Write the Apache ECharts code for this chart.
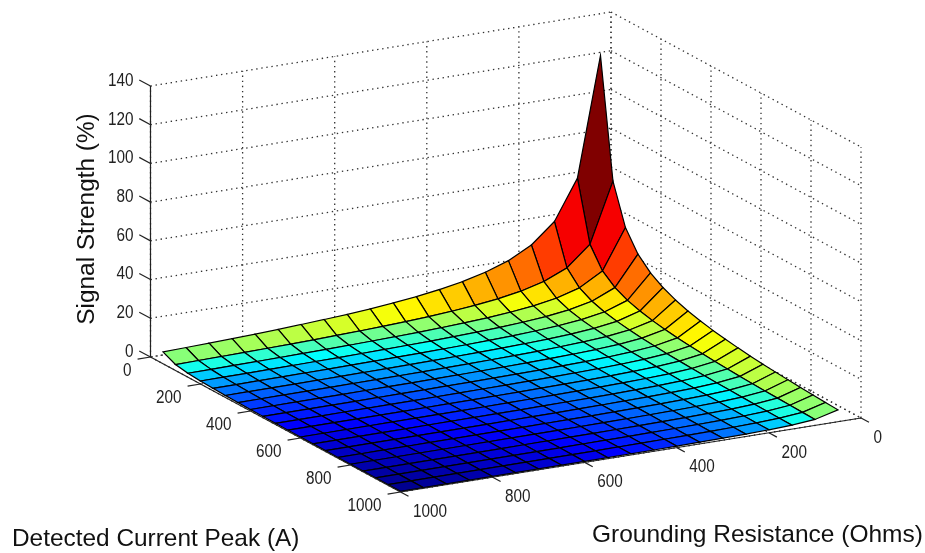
<!DOCTYPE html>
<html lang="en">
<head>
    <meta charset="UTF-8">
    <title>Signal Strength</title>
    <script src="https://cdn.jsdelivr.net/npm/echarts@6/dist/echarts.min.js"></script>
    <style>
        html, body { margin: 0; padding: 0; background: #fff; }
        #main { width: 925px; height: 553px; }
    </style>
</head>
<body>
<div id="main"></div>
<script>
    var currentSteps = [50,100,150,200,250,300,350,400,450,500,550,600,650,700,750,800,850,900,950,1000];
    var resistanceSteps = [50,100,150,200,250,300,350,400,450,500,550,600,650,700,750,800,850,900,950,1000];
    var currentTicks = [0,200,400,600,800,1000];
    var resistanceTicks = [0,200,400,600,800,1000];
    var strengthTicks = [0,20,40,60,80,100,120,140];

    // one row per current step, one column per resistance step
    var signalStrength = [
        [123,61.5,41,30.75,24.6,20.5,17.57,15.38,13.67,12.3,11.18,10.25,9.46,8.79,8.2,7.69,7.24,6.83,6.47,6.15],
        [61.5,30.75,20.5,15.38,12.3,10.25,8.79,7.69,6.83,6.15,5.59,5.13,4.73,4.39,4.1,3.84,3.62,3.42,3.24,3.08],
        [41,20.5,13.67,10.25,8.2,6.83,5.86,5.13,4.56,4.1,3.73,3.42,3.15,2.93,2.73,2.56,2.41,2.28,2.16,2.05],
        [30.75,15.38,10.25,7.69,6.15,5.13,4.39,3.84,3.42,3.08,2.8,2.56,2.37,2.2,2.05,1.92,1.81,1.71,1.62,1.54],
        [24.6,12.3,8.2,6.15,4.92,4.1,3.51,3.08,2.73,2.46,2.24,2.05,1.89,1.76,1.64,1.54,1.45,1.37,1.29,1.23],
        [20.5,10.25,6.83,5.13,4.1,3.42,2.93,2.56,2.28,2.05,1.86,1.71,1.58,1.46,1.37,1.28,1.21,1.14,1.08,1.03],
        [17.57,8.79,5.86,4.39,3.51,2.93,2.51,2.2,1.95,1.76,1.6,1.46,1.35,1.26,1.17,1.1,1.03,0.98,0.92,0.88],
        [15.38,7.69,5.13,3.84,3.08,2.56,2.2,1.92,1.71,1.54,1.4,1.28,1.18,1.1,1.03,0.96,0.9,0.85,0.81,0.77],
        [13.67,6.83,4.56,3.42,2.73,2.28,1.95,1.71,1.52,1.37,1.24,1.14,1.05,0.98,0.91,0.85,0.8,0.76,0.72,0.68],
        [12.3,6.15,4.1,3.08,2.46,2.05,1.76,1.54,1.37,1.23,1.12,1.03,0.95,0.88,0.82,0.77,0.72,0.68,0.65,0.62],
        [11.18,5.59,3.73,2.8,2.24,1.86,1.6,1.4,1.24,1.12,1.02,0.93,0.86,0.8,0.75,0.7,0.66,0.62,0.59,0.56],
        [10.25,5.13,3.42,2.56,2.05,1.71,1.46,1.28,1.14,1.03,0.93,0.85,0.79,0.73,0.68,0.64,0.6,0.57,0.54,0.51],
        [9.46,4.73,3.15,2.37,1.89,1.58,1.35,1.18,1.05,0.95,0.86,0.79,0.73,0.68,0.63,0.59,0.56,0.53,0.5,0.47],
        [8.79,4.39,2.93,2.2,1.76,1.46,1.26,1.1,0.98,0.88,0.8,0.73,0.68,0.63,0.59,0.55,0.52,0.49,0.46,0.44],
        [8.2,4.1,2.73,2.05,1.64,1.37,1.17,1.03,0.91,0.82,0.75,0.68,0.63,0.59,0.55,0.51,0.48,0.46,0.43,0.41],
        [7.69,3.84,2.56,1.92,1.54,1.28,1.1,0.96,0.85,0.77,0.7,0.64,0.59,0.55,0.51,0.48,0.45,0.43,0.4,0.38],
        [7.24,3.62,2.41,1.81,1.45,1.21,1.03,0.9,0.8,0.72,0.66,0.6,0.56,0.52,0.48,0.45,0.43,0.4,0.38,0.36],
        [6.83,3.42,2.28,1.71,1.37,1.14,0.98,0.85,0.76,0.68,0.62,0.57,0.53,0.49,0.46,0.43,0.4,0.38,0.36,0.34],
        [6.47,3.24,2.16,1.62,1.29,1.08,0.92,0.81,0.72,0.65,0.59,0.54,0.5,0.46,0.43,0.4,0.38,0.36,0.34,0.32],
        [6.15,3.08,2.05,1.54,1.23,1.03,0.88,0.77,0.68,0.62,0.56,0.51,0.47,0.44,0.41,0.38,0.36,0.34,0.32,0.31]
    ];

    // orthographic view: where the origin sits and how far one unit of each axis moves on screen
    var view = {
        ox: 611, oy: 283,
        currentX: 0.25, currentY: 0.135,
        resistanceX: -0.4605, resistanceY: 0.074,
        strengthY: -271 / 140
    };

    function project(current, resistance, strength) {
        return [
            view.ox + current * view.currentX + resistance * view.resistanceX,
            view.oy + current * view.currentY + resistance * view.resistanceY + strength * view.strengthY
        ];
    }

    var maxC = 1000, maxR = 1000, maxS = 140;

    // dotted walls and floor, behind the surface
    var gridLines = [];
    strengthTicks.forEach(function (s) {
        gridLines.push([0, maxR, s, 0, 0, s]);
        gridLines.push([0, 0, s, maxC, 0, s]);
    });
    resistanceTicks.forEach(function (r) {
        gridLines.push([0, r, 0, 0, r, maxS]);
        gridLines.push([0, r, 0, maxC, r, 0]);
    });
    currentTicks.forEach(function (c) {
        gridLines.push([c, 0, 0, c, 0, maxS]);
        gridLines.push([c, 0, 0, c, maxR, 0]);
    });

    // solid axes and tick marks, in front
    var axisLines = [
        [0, maxR, 0, 0, maxR, maxS],
        [0, maxR, 0, maxC, maxR, 0],
        [maxC, maxR, 0, maxC, 0, 0]
    ];
    strengthTicks.forEach(function (s) {
        axisLines.push([0, maxR, s, -45, maxR, s]);
    });
    currentTicks.forEach(function (c) {
        axisLines.push([c, maxR, 0, c, maxR + 28, 0]);
    });
    resistanceTicks.forEach(function (r) {
        axisLines.push([maxC, r, 0, maxC + 32, r, 0]);
    });

    var cells = [];
    for (var i = 0; i < currentSteps.length - 1; i++) {
        for (var j = 0; j < resistanceSteps.length - 1; j++) {
            cells.push([i, j, Math.log10(signalStrength[i][j])]);
        }
    }
    // back to front so nearer cells paint over farther ones
    cells.sort(function (a, b) { return (a[0] + a[1]) - (b[0] + b[1]); });

    function lineRenderer(style) {
        return function (params, api) {
            var a = api.coord(project(api.value(0), api.value(1), api.value(2)));
            var b = api.coord(project(api.value(3), api.value(4), api.value(5)));
            return {
                type: 'line',
                shape: { x1: a[0], y1: a[1], x2: b[0], y2: b[1] },
                style: style
            };
        };
    }

    function renderCell(params, api) {
        var i = api.value(0), j = api.value(1);
        var corners = [[i, j], [i + 1, j], [i + 1, j + 1], [i, j + 1]].map(function (k) {
            return api.coord(project(currentSteps[k[0]], resistanceSteps[k[1]], signalStrength[k[0]][k[1]]));
        });
        return {
            type: 'polygon',
            shape: { points: corners },
            style: { fill: api.visual('color'), stroke: '#000', lineWidth: 1.2 }
        };
    }

    // tick labels: value on the axis, then the label's side and offset in pixels
    var tickLabels = [];
    strengthTicks.forEach(function (s) {
        tickLabels.push({ at: [0, maxR, s], text: String(s), align: 'right', dx: -17, dy: -5 });
    });
    currentTicks.forEach(function (c) {
        tickLabels.push({ at: [c, maxR, 0], text: String(c), align: 'right', dx: -19, dy: 14.5 });
    });
    resistanceTicks.forEach(function (r) {
        tickLabels.push({ at: [maxC, r, 0], text: String(r), align: 'left', dx: 12.5, dy: 20 });
    });

    function renderTickLabel(params, api) {
        var t = tickLabels[params.dataIndex];
        var p = api.coord(project(t.at[0], t.at[1], t.at[2]));
        return {
            type: 'text',
            x: p[0] + t.dx,
            y: p[1] + t.dy,
            scaleY: 1.15,
            style: {
                text: t.text,
                fontFamily: 'Liberation Sans',
                fontSize: 15.3,
                fill: '#222',
                textAlign: t.align,
                textVerticalAlign: 'middle'
            }
        };
    }

    var chart = echarts.init(document.getElementById('main'), null, { renderer: 'canvas' });

    chart.setOption({
        animation: false,
        backgroundColor: '#fff',
        grid: { left: 0, right: 0, top: 0, bottom: 0 },
        xAxis: { type: 'value', min: 0, max: 925, show: false },
        yAxis: { type: 'value', min: 0, max: 553, inverse: true, show: false },
        visualMap: {
            show: false,
            seriesIndex: 1,
            dimension: 2,
            min: Math.log10(0.31),
            max: Math.log10(123),
            inRange: {
                color: ['#000080', '#0000ff', '#0080ff', '#00ffff', '#80ff80', '#ffff00', '#ff8000', '#ff0000', '#800000']
            }
        },
        series: [
            {
                type: 'custom', name: 'grid', silent: true, clip: false, z: 1,
                renderItem: lineRenderer({ stroke: '#333', lineWidth: 1.3, lineDash: [1.4, 3.7] }),
                data: gridLines
            },
            {
                type: 'custom', name: 'Signal Strength', silent: true, clip: false, z: 2,
                renderItem: renderCell,
                data: cells
            },
            {
                type: 'custom', name: 'axes', silent: true, clip: false, z: 3,
                renderItem: lineRenderer({ stroke: '#222', lineWidth: 1.2 }),
                data: axisLines
            },
            {
                type: 'custom', name: 'labels', silent: true, clip: false, z: 4,
                renderItem: renderTickLabel,
                data: tickLabels.map(function (t, k) { return [k]; })
            }
        ],
        graphic: [
            {
                type: 'text', x: 12, y: 539,
                style: { text: 'Detected Current Peak (A)', font: '24.4px "Liberation Sans"', fill: '#111', textVerticalAlign: 'middle' }
            },
            {
                type: 'text', x: 592, y: 535,
                style: { text: 'Grounding Resistance (Ohms)', font: '24.5px "Liberation Sans"', fill: '#111', textVerticalAlign: 'middle' }
            },
            {
                type: 'text', x: 87, y: 219, rotation: Math.PI / 2,
                style: { text: 'Signal Strength (%)', font: '24.4px "Liberation Sans"', fill: '#111', textAlign: 'center', textVerticalAlign: 'middle' }
            }
        ]
    });
</script>
</body>
</html>
